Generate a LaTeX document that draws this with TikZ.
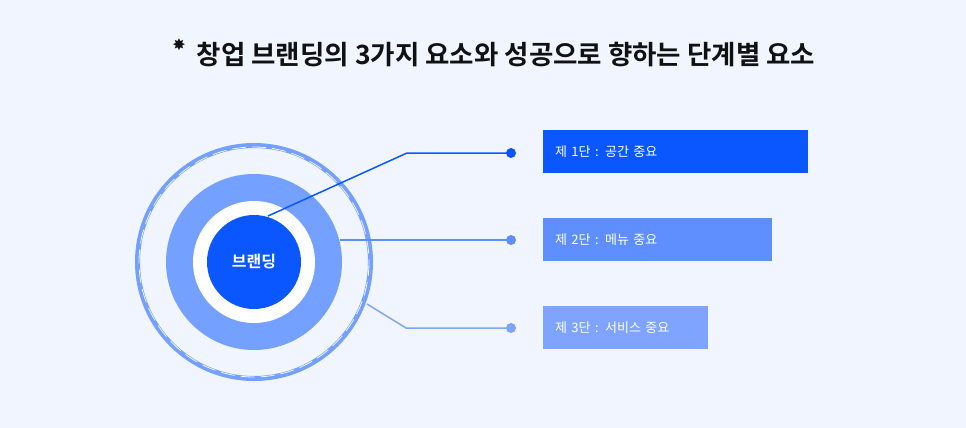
\documentclass[tikz,border=0pt]{standalone}
\usepackage{fontspec}
\setmainfont{Noto Sans CJK KR}
\newfontfamily\kbold{Noto Sans CJK KR Bold}
\newfontfamily\dejavu{DejaVu Sans}
\definecolor{bg}{HTML}{F0F5FF}
\definecolor{b1}{HTML}{0B57FF}
\definecolor{b2}{HTML}{5F8FFF}
\definecolor{b3}{HTML}{7FA4FF}
\definecolor{ring}{HTML}{74A0FF}
\definecolor{dk}{HTML}{111111}
\tikzset{stagebox/.style={fill=#1,anchor=north west,inner sep=0pt,inner xsep=12pt,text=white,font=\fontsize{13}{15}\selectfont,align=left,minimum height=43pt},
dotc/.style={circle,fill=#1,inner sep=0pt,minimum size=10pt}}
\begin{document}
\begin{tikzpicture}[x=1pt,y=-1pt]
\useasboundingbox (0,0) rectangle (966,428);
\fill[bg] (0,0) rectangle (966,428);
\node[font=\kbold\fontsize{26.5}{30}\selectfont,text=dk] (title) at (506,55) {창업 브랜딩의 3가지 요소와 성공으로 향하는 단계별 요소};
\node[font=\dejavu\fontsize{16}{16}\selectfont,text=dk] (star) at (179,45) {✸};
% circles
\coordinate (c) at (254,262);
\draw[ring,line width=5pt] (c) circle (116.5);
\draw[bg,line width=0.8pt,dash pattern=on 14pt off 6pt] (c) circle (115);
\fill[ring] (c) circle (88);
\fill[white] (c) circle (61);
\node[circle,fill=b1,minimum size=94pt,inner sep=0pt,text=white,font=\kbold\fontsize{16}{18}\selectfont] (core) at (c) {브랜딩};
% boxes
\node[stagebox=b1,text width=241pt] (s1) at (543,130) {제 1단 : 공간 중요};
\node[stagebox=b2,text width=205pt] (s2) at (543,218) {제 2단 : 메뉴 중요};
\node[stagebox=b3,text width=141pt] (s3) at (543,306) {제 3단 : 서비스 중요};
% dots
\node[dotc=b1] (d1) at (511,153) {};
\node[dotc=b2] (d2) at (511,240) {};
\node[dotc=b3] (d3) at (511,328) {};
\coordinate (p1) at (268,216);
\coordinate (p2) at (340,240);
\coordinate (p3) at (367,304);
\draw[b1,line width=1.5pt] (p1) -- (407,153) -- (d1.center);
\draw[b2,line width=1.5pt] (p2) -- (d2.center);
\draw[b3,line width=1.5pt] (p3) -- (406,328) -- (d3.center);
\end{tikzpicture}
\end{document}
